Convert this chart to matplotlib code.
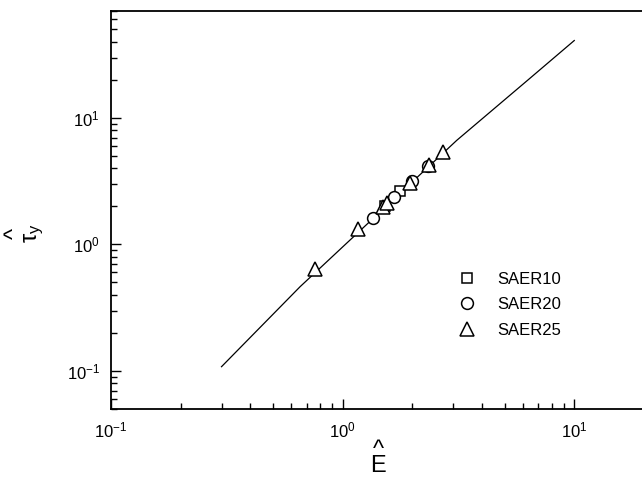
import numpy as np
import matplotlib
matplotlib.use("Agg")
import matplotlib.pyplot as plt

plt.rcParams["font.family"] = ["Liberation Sans", "DejaVu Sans"]
plt.rcParams["mathtext.default"] = "regular"

# correlation curve at a few points
E_fit = [0.30, 0.655, 3.11, 6.28, 10.0]
tau_fit = [0.108, 0.463, 6.65, 19.8, 40.9]

E_saer10 = [1.53, 1.77]
tau_saer10 = [2.02, 2.62]

E_saer20 = [1.35, 1.66, 1.99, 2.33]
tau_saer20 = [1.62, 2.38, 3.18, 4.20]

E_saer25 = [0.76, 1.17, 1.50, 1.56, 1.95, 2.35, 2.72]
tau_saer25 = [0.64, 1.32, 1.97, 2.12, 3.05, 4.25, 5.40]

W, H = 642, 480
fig = plt.figure(figsize=(W / 100, H / 100), dpi=100)
ax = fig.add_axes([111 / W, (H - 409) / H, 533 / W, 398 / H])

ax.plot(E_fit, tau_fit, color="black", lw=0.9, zorder=2)

mk = dict(linestyle="none", mfc="white", mec="black", mew=1.1, zorder=3)
ax.plot(E_saer10, tau_saer10, marker="s", ms=7.5, label="SAER10", **mk)
ax.plot(E_saer20, tau_saer20, marker="o", ms=8.5, label="SAER20", **mk)
ax.plot(E_saer25, tau_saer25, marker="^", ms=9.5, label="SAER25", **mk)

ax.set_xscale("log")
ax.set_yscale("log")
ax.set_xlim(0.1, 20)
ax.set_ylim(0.05, 70)

ax.spines["right"].set_visible(False)
for s in ax.spines.values():
    s.set_linewidth(1.3)
ax.tick_params(which="both", direction="in", top=False, right=False, width=1.0)
ax.tick_params(which="major", length=7, labelsize=12, pad=8)
ax.tick_params(which="minor", length=4)

ax.legend(loc="upper left", bbox_to_anchor=(0.625, 0.382), frameon=False,
          fontsize=12, handlelength=1.0, handletextpad=1.3, labelspacing=0.62,
          numpoints=1, markerscale=1.0)

# axis labels: a circumflex line stacked above the symbol
fig.text(378 / W, 1 - 458 / H, "^\nE", fontsize=17, ha="center", va="center",
         multialignment="center", linespacing=0.68)
fig.text(25 / W, 1 - 233 / H, "^\n" + r"$\tau_y$", fontsize=17, ha="center",
         va="center", rotation=90, multialignment="center", linespacing=0.62)

fig.savefig("out.png", dpi=100)
